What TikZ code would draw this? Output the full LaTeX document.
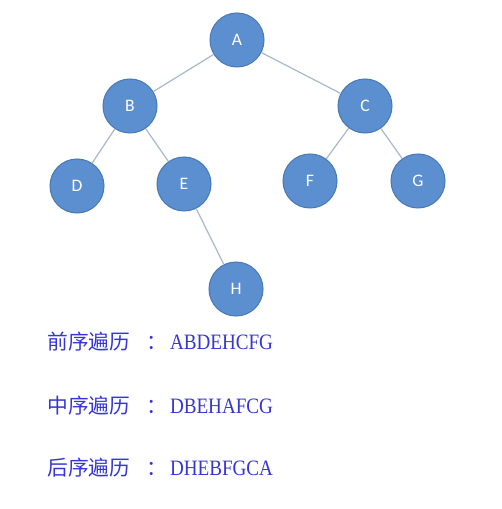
\documentclass[tikz,border=0pt]{standalone}
\usepackage{fontspec}
\setmainfont{Liberation Serif}
\newfontfamily\cjk{Noto Sans CJK SC}
\newfontfamily\lab{Carlito}
\definecolor{nodefill}{HTML}{5B8FCF}
\definecolor{nodeline}{HTML}{4A7AB5}
\definecolor{edgecol}{HTML}{A9B9CD}
\definecolor{textblue}{HTML}{3535D8}
% heading words, centred colon, then the letter sequence
\newcommand{\orderline}[2]{{\cjk #1}\hspace{0.32cm}{\cjk ：}\hspace{0.06cm}%
  \scalebox{0.87}[1]{\fontsize{12.5}{14}\selectfont #2}}
\tikzset{
  vertex/.style={circle,fill=nodefill,draw=nodeline,line width=0.6pt,
    minimum size=1.08cm,inner sep=0pt,text=white,font=\lab\fontsize{10}{12}\selectfont},
  order/.style={anchor=west,text=textblue,inner sep=0pt,font=\fontsize{11.8}{14}\selectfont}
}
\begin{document}
\begin{tikzpicture}[x=0.02cm,y=-0.02cm]
      \useasboundingbox (0,0) rectangle (502,509);
      \draw
        (237,40) node[vertex] (A){A}
        (130,106) node[vertex] (B){B}
        (365,106) node[vertex] (C){C}
        (77,186) node[vertex] (D){D}
        (184,184) node[vertex] (E){E}
        (310,181) node[vertex] (F){F}
        (418,181) node[vertex] (G){G}
        (236,289) node[vertex] (H){H};
      \begin{scope}[-,edgecol,line width=0.7pt]
        \draw (A) to (B);
        \draw (A) to (C);
        \draw (B) to (D);
        \draw (B) to (E);
        \draw (C) to (F);
        \draw (C) to (G);
        \draw (E) to (H);
      \end{scope}
      \node[order] (pre) at (47,342) {\orderline{前序遍历}{ABDEHCFG}};
      \node[order] (in) at (47,406) {\orderline{中序遍历}{DBEHAFCG}};
      \node[order] (post) at (47,468) {\orderline{后序遍历}{DHEBFGCA}};
    \end{tikzpicture}
\end{document}
